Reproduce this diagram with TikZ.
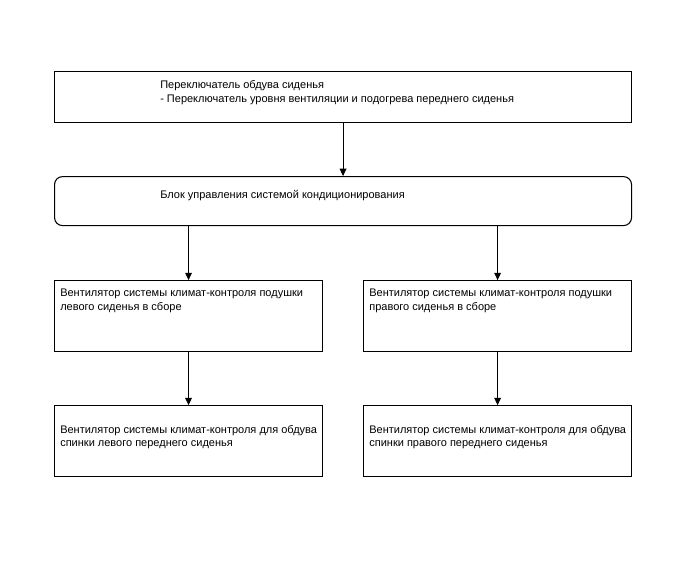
\documentclass[tikz,border=0pt]{standalone}
\usepackage{fontspec}
\setmainfont{Liberation Sans}
\usepackage{tikz}
\usetikzlibrary{arrows.meta,positioning,calc}
\tikzset{
  blockbox/.style={draw=black,line width=0.8pt,minimum width=201pt,minimum height=53.25pt,inner sep=0pt,fill=white},
  widebox/.style={blockbox,minimum width=432.75pt,minimum height=38.25pt},
  blocktext/.style={anchor=base west,align=left,inner sep=0pt,font=\fontsize{8.25pt}{10pt}\selectfont},
  sigarrow/.style={-{Triangle[length=5.5pt,width=5pt]},line width=0.75pt,draw=black}
}

\begin{document}
\begin{tikzpicture}[x=0.75pt,y=-0.75pt]
\useasboundingbox[fill=white] (0,0) rectangle (688,560);
\node[widebox,anchor=north west] (sw) at (54,71) {};
\node[widebox,rounded corners=6pt,minimum height=36.75pt,below=39.75pt of sw] (acu) {};
\node[blockbox,below=40.5pt of acu.south west,anchor=north west] (lcu) {};
\node[blockbox,right=30pt of lcu] (rcu) {};
\node[blockbox,below=39.75pt of lcu] (lbk) {};
\node[blockbox,below=39.75pt of rcu] (rbk) {};

% texts (base = last line)
\node[blocktext] (swt) at ($(sw.north west)+(106,31)$) {Переключатель обдува сиденья\\- Переключатель уровня вентиляции и подогрева переднего сиденья};
\node[blocktext] (acut) at ($(acu.north west)+(106,22.5)$) {Блок управления системой кондиционирования};
\node[blocktext] (lcut) at ($(lcu.north west)+(6,30)$) {Вентилятор системы климат-контроля подушки\\левого сиденья в сборе};
\node[blocktext] (rcut) at ($(rcu.north west)+(6,30)$) {Вентилятор системы климат-контроля подушки\\правого сиденья в сборе};
\node[blocktext] (lbkt) at ($(lbk.north west)+(6,41.5)$) {Вентилятор системы климат-контроля для обдува\\спинки левого переднего сиденья};
\node[blocktext] (rbkt) at ($(rbk.north west)+(6,41.5)$) {Вентилятор системы климат-контроля для обдува\\спинки правого переднего сиденья};

\draw[sigarrow] (sw) -- (acu);
\draw[sigarrow] (acu.south -| lcu) -- (lcu);
\draw[sigarrow] (acu.south -| rcu) -- (rcu);
\draw[sigarrow] (lcu) -- (lbk);
\draw[sigarrow] (rcu) -- (rbk);
\end{tikzpicture}
\end{document}
